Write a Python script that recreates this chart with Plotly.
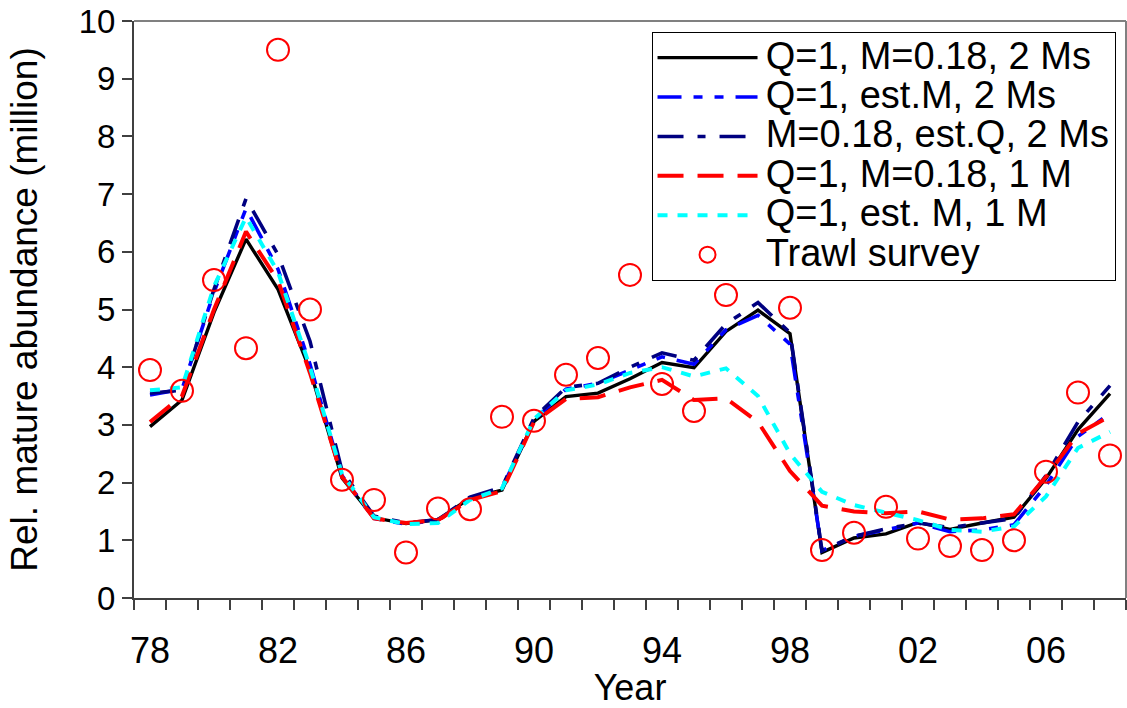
import plotly.graph_objects as go

years = list(range(1978, 2009))

q1_m018_2ms = [2.97, 3.43, 4.95, 6.22, 5.35, 3.95, 2.08, 1.39, 1.29, 1.36, 1.73, 1.87, 3.06, 3.49, 3.55, 3.80,
               4.08, 3.99, 4.62, 4.99, 4.58, 0.79, 1.04, 1.11, 1.31, 1.19, 1.30, 1.40, 2.07, 2.92, 3.54]
q1_estm_2ms = [3.52, 3.62, 5.30, 6.75, 5.70, 4.05, 2.12, 1.38, 1.28, 1.35, 1.72, 1.90, 3.08, 3.62, 3.72, 3.95,
               4.18, 4.05, 4.65, 4.90, 4.40, 0.82, 1.07, 1.18, 1.30, 1.15, 1.18, 1.27, 1.95, 2.80, 3.20]
m018_estq_2ms = [3.55, 3.60, 5.35, 6.92, 5.95, 4.45, 2.20, 1.42, 1.30, 1.36, 1.75, 1.92, 3.12, 3.65, 3.72, 4.00,
                 4.25, 4.12, 4.75, 5.12, 4.60, 0.82, 1.07, 1.20, 1.30, 1.22, 1.30, 1.38, 2.12, 3.05, 3.68]
q1_m018_1m = [3.05, 3.50, 5.00, 6.35, 5.50, 3.90, 2.10, 1.38, 1.30, 1.35, 1.70, 1.85, 3.05, 3.45, 3.48, 3.65,
              3.78, 3.43, 3.46, 3.05, 2.20, 1.60, 1.50, 1.47, 1.50, 1.36, 1.38, 1.45, 2.10, 2.85, 3.15]
q1_estm_1m = [3.60, 3.65, 5.40, 6.60, 5.65, 4.00, 2.15, 1.40, 1.28, 1.30, 1.70, 1.90, 3.10, 3.60, 3.70, 3.90,
              4.00, 3.84, 3.98, 3.50, 2.50, 1.84, 1.61, 1.48, 1.35, 1.18, 1.15, 1.24, 1.76, 2.60, 2.88]
trawl_survey = [3.95, 3.59, 5.51, 4.33, 9.50, 5.00, 2.05, 1.70, 0.79, 1.55, 1.54, 3.14, 3.07, 3.87, 4.16, 5.60,
                3.71, 3.24, 5.25, None, 5.03, 0.83, 1.13, 1.58, 1.03, 0.90, 0.83, 1.00, 2.19, 3.56, 2.47]

tick_years = [1978, 1982, 1986, 1990, 1994, 1998, 2002, 2006]
tick_labels = ["78", "82", "86", "90", "94", "98", "02", "06"]

series_names = ["Q=1, M=0.18, 2 Ms", "Q=1, est.M, 2 Ms", "M=0.18, est.Q, 2 Ms",
                "Q=1, M=0.18, 1 M", "Q=1, est. M, 1 M"]
series_values = [q1_m018_2ms, q1_estm_2ms, m018_estq_2ms, q1_m018_1m, q1_estm_1m]
series_colors = ["#000000", "#0000FF", "#000080", "#FF0000", "#00FFFF"]
series_dashes = ["solid", "24px,12px,9px,12px,9px,12px", "26px,14px,8px,14px",
                 "26px,14px", "10px,10px"]
series_widths = [3.4, 3.6, 3.6, 4.0, 4.0]

FONT = "Liberation Sans, Arial, sans-serif"


def leg(txt):
    return "<span style='font-size:38px'>&#8202;" + txt + "</span>"


fig = go.Figure()
for name, vals, col, dash, w in zip(series_names, series_values, series_colors, series_dashes, series_widths):
    fig.add_trace(go.Scatter(x=years, y=vals, mode="lines", name=leg(name),
                             line=dict(color=col, dash=dash, width=w)))

fig.add_trace(go.Scatter(x=years, y=trawl_survey, mode="markers", name=leg("Trawl survey"),
                         marker=dict(symbol="circle-open", size=22, color="#FF0000",
                                     line=dict(width=2, color="#FF0000"))))

fig.update_layout(
    width=1127, height=708,
    margin=dict(l=134, r=1, t=21, b=110),
    plot_bgcolor="white", paper_bgcolor="white",
    font=dict(family=FONT, color="black"),
    legend=dict(x=0.5217, y=0.981, xanchor="left", yanchor="top",
                bgcolor="white", bordercolor="black", borderwidth=1,
                font=dict(size=28, family=FONT), itemwidth=100,
                tracegroupgap=0),
    showlegend=True,
)

fig.update_xaxes(
    range=[1977.5, 2008.5], tickmode="array", tickvals=tick_years, ticktext=tick_labels,
    ticks="outside", ticklen=20, tickcolor="rgba(0,0,0,0)",
    tickfont=dict(size=36, family=FONT), automargin=False,
    minor=dict(ticks="outside", tick0=1977.5, dtick=1, ticklen=10, tickcolor="#404040", tickwidth=1.5),
    showline=True, linecolor="#404040", linewidth=2, showgrid=False, zeroline=False,
    title=dict(text="Year", font=dict(size=36, family=FONT), standoff=14),
)
fig.update_yaxes(
    range=[0, 10], dtick=1, tick0=0,
    ticks="outside", ticklen=10, tickcolor="#404040", tickwidth=1.5,
    tickfont=dict(size=33, family=FONT), automargin=False,
    showline=True, linecolor="#404040", linewidth=2, showgrid=False, zeroline=False,
    title=dict(text="Rel. mature abundance (million)", font=dict(size=37, family=FONT), standoff=30),
)

# grey frame on top and right of plot area
fig.add_shape(type="line", xref="paper", yref="paper", x0=0, x1=1, y0=1, y1=1,
              line=dict(color="#808080", width=2))
fig.add_shape(type="line", xref="paper", yref="paper", x0=1, x1=1, y0=0, y1=1,
              line=dict(color="#808080", width=2))

fig.write_html("out.html")
